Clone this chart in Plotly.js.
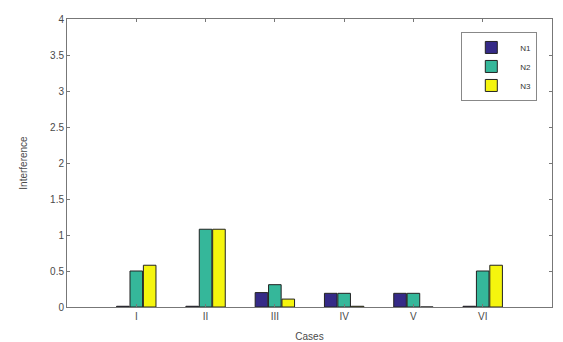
<!DOCTYPE html>
<html><head><meta charset="utf-8">
<script src="https://cdn.plot.ly/plotly-2.35.2.min.js"></script>
<style>body{margin:0;background:#fff}</style>
</head><body>
<div id="chart" style="width:563px;height:342px"></div>
<script>
var cases = ["I","II","III","IV","V","VI"];
var caseIdx = [1,2,3,4,5,6];
var N1 = [0.01, 0.01, 0.20, 0.19, 0.19, 0.01];
var N2 = [0.50, 1.08, 0.31, 0.19, 0.19, 0.50];
var N3 = [0.58, 1.08, 0.11, 0.01, 0.00, 0.58];
var names = ["N1","N2","N3"];
var colors = ["#352a87","#35b79a","#f5f50e"];
var series = [N1, N2, N3];
var traces = series.map(function(s,i){
  return {type:"bar", x:caseIdx, y:s, name:names[i],
    marker:{color:colors[i], line:{color:"#222", width:1}}};
});
var axisFont = {family:"Liberation Sans, Arial", size:10, color:"#4a4a4a"};
var layout = {
  width:563, height:342,
  margin:{l:67, r:11, t:19, b:35},
  paper_bgcolor:"#fff", plot_bgcolor:"#fff",
  barmode:"group", bargap:0.42, bargroupgap:0.06,
  font:axisFont,
  showlegend:true,
  legend:{x:0.813, y:0.955, xanchor:"left", yanchor:"top",
    bordercolor:"#888", borderwidth:1, bgcolor:"#fff",
    font:{family:"Liberation Sans, Arial", size:8, color:"#333"},
    itemwidth:48, tracegroupgap:0},
  xaxis:{range:[0,7], tickvals:caseIdx, ticktext:cases,
    ticks:"inside", ticklen:3, tickcolor:"#777",
    showline:true, linecolor:"#777", linewidth:1, mirror:"ticks",
    showgrid:false, zeroline:false,
    title:{text:"Cases", standoff:14, font:{size:10, color:"#4a4a4a"}}},
  yaxis:{range:[0,4], dtick:0.5, tickformat:"~g",
    ticks:"inside", ticklen:3, tickcolor:"#777",
    showline:true, linecolor:"#777", linewidth:1, mirror:"ticks",
    showgrid:false, zeroline:false,
    title:{text:"Interference", standoff:20, font:{size:10, color:"#4a4a4a"}}}
};
Plotly.newPlot("chart", traces, layout, {displayModeBar:false, staticPlot:true});
</script>
</body></html>
